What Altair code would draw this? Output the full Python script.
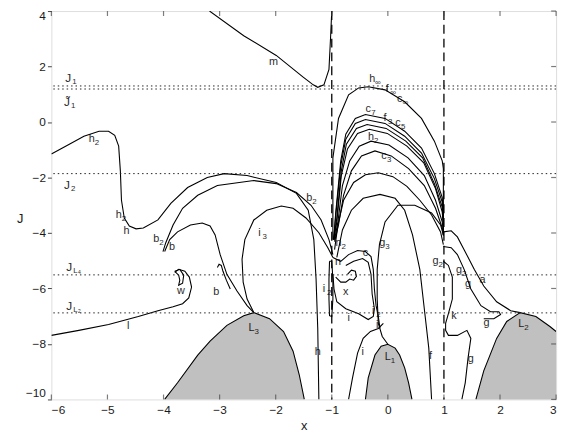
import altair as alt
import pandas as pd

# ---------------- curves (x, J) ----------------
m_x = [-3.18, -2.57, -1.99, -1.51, -1.33, -1.25, -1.14, -1.05, -1.02, -1.0]
m_y = [4.0, 3.11, 2.40, 1.62, 1.34, 1.25, 1.34, 1.90, 3.11, 4.0]

h_x = [-6, -5.68, -5.42, -5.15, -4.98, -4.87, -4.80, -4.77, -4.75, -4.70, -4.61, -4.49, -4.36, -4.10,
       -3.87, -3.57, -3.22, -2.92, -2.51, -1.99, -1.63, -1.42, -1.32, -1.28, -1.25, -1.23]
h_y = [-1.15, -0.80, -0.51, -0.33, -0.33, -0.48, -0.87, -1.76, -2.82, -3.46, -3.75, -3.85, -3.82, -3.53,
       -2.93, -2.36, -2.0, -1.86, -1.93, -2.18, -2.57, -3.18, -4.24, -5.66, -7.44, -10.0]

b2_x = [-4.01, -3.96, -3.83, -3.66, -3.39, -3.04, -2.39, -1.99, -1.63, -1.37, -1.19, -1.05, -0.98]
b2_y = [-4.67, -4.35, -3.71, -3.11, -2.64, -2.29, -2.11, -2.22, -2.54, -3.0, -3.53, -4.24, -4.78]

b_x = [-3.98, -3.89, -3.75, -3.52, -3.31, -3.17, -3.08, -2.99, -2.87, -2.69, -2.51, -2.39]
b_y = [-4.67, -4.24, -3.96, -3.71, -3.64, -3.75, -4.07, -4.78, -5.49, -6.09, -6.62, -6.87]

bh_x = [-3.04, -3.01, -2.97, -2.94, -2.88, -2.81]
bh_y = [-5.24, -5.13, -5.17, -5.38, -5.70, -6.02]

i3_x = [-2.39, -2.51, -2.58, -2.60, -2.55, -2.39, -2.16, -1.90, -1.69, -1.46, -1.23, -1.07, -0.98]
i3_y = [-6.87, -6.38, -5.77, -4.95, -4.24, -3.53, -3.18, -3.03, -3.11, -3.46, -3.99, -4.53, -4.88]

l_x = [-6.0, -5.51, -4.98, -4.45, -4.10, -3.83, -3.66, -3.55, -3.50, -3.54, -3.62, -3.73, -3.80]
l_y = [-7.69, -7.51, -7.30, -7.01, -6.80, -6.66, -6.55, -6.34, -5.95, -5.59, -5.38, -5.31, -5.42]

w_x = [-3.80, -3.71, -3.64, -3.66, -3.73, -3.71, -3.73, -3.80]
w_y = [-5.38, -5.31, -5.52, -5.81, -5.88, -5.70, -5.52, -5.38]

hinf_x = [-0.98, -0.98, -0.88, -0.70, -0.52, -0.35, -0.05, 0.30, 0.60, 0.83, 0.97, 0.99, 0.99]
hinf_y = [-4.24, -1.29, 0.13, 0.98, 1.23, 1.27, 1.16, 0.73, 0.13, -0.69, -1.40, -1.68, -3.89]

c7_x = [-0.965, -0.93, -0.84, -0.75, -0.58, -0.40, -0.05, 0.30, 0.60, 0.83, 0.97, 0.99, 0.99]
c7_y = [-4.24, -3.28, -1.40, -0.44, 0.13, 0.27, 0.13, -0.33, -0.94, -1.86, -2.72, -3.28, -4.07]

f3_x = [-0.965, -0.93, -0.84, -0.75, -0.58, -0.40, -0.05, 0.30, 0.60, 0.83, 0.97, 0.99]
f3_y = [-4.24, -3.39, -1.58, -0.62, -0.05, 0.09, -0.05, -0.51, -1.12, -2.04, -2.89, -3.46]

c5_x = [-0.965, -0.91, -0.83, -0.74, -0.56, -0.37, -0.03, 0.32, 0.62, 0.83, 0.97, 0.99]
c5_y = [-4.24, -3.46, -1.76, -0.80, -0.23, -0.09, -0.23, -0.69, -1.29, -2.22, -3.07, -3.60]

c6_x = [-0.965, -0.91, -0.83, -0.72, -0.54, -0.33, -0.01, 0.34, 0.64, 0.85, 0.97, 0.99]
c6_y = [-4.24, -3.60, -1.93, -0.97, -0.41, -0.26, -0.41, -0.87, -1.47, -2.40, -3.25, -3.75]

h2f_x = [-0.95, -0.89, -0.81, -0.68, -0.51, -0.30, 0.02, 0.36, 0.65, 0.85, 0.97, 0.99]
h2f_y = [-4.24, -3.60, -2.29, -1.40, -0.87, -0.69, -0.83, -1.29, -1.93, -2.82, -3.60, -3.96]

c3_x = [-0.95, -0.88, -0.79, -0.65, -0.47, -0.23, 0.06, 0.37, 0.65, 0.85, 0.97, 0.99]
c3_y = [-4.31, -3.71, -2.64, -1.76, -1.22, -1.04, -1.22, -1.68, -2.29, -3.11, -3.82, -4.10]

arc_x = [-0.95, -0.89, -0.79, -0.61, -0.40, -0.17, 0.09, 0.34, 0.57, 0.78, 0.94, 0.99]
arc_y = [-4.60, -3.71, -2.82, -2.18, -1.90, -1.83, -1.97, -2.32, -2.82, -3.35, -3.96, -4.42]

f_x = [-0.91, -0.81, -0.65, -0.44, -0.14, 0.13, 0.30, 0.44, 0.57, 0.65, 0.73, 0.78]
f_y = [-4.88, -3.89, -3.18, -2.75, -2.61, -2.75, -3.18, -4.07, -5.31, -6.73, -8.15, -10.0]

g3_x = [0.00, -0.10, -0.17, -0.19, -0.19, -0.15, -0.05, 0.18, 0.48, 0.78, 0.94, 0.99]
g3_y = [-8.01, -7.73, -7.26, -6.38, -5.31, -4.42, -3.60, -3.0, -3.0, -3.28, -3.71, -4.07]

ilow_x = [-0.70, -0.63, -0.54, -0.44, -0.31, -0.17, -0.08]
ilow_y = [-10.0, -9.22, -8.33, -7.80, -7.55, -7.44, -7.26]

c_x = [-0.98, -0.84, -0.70, -0.54, -0.40, -0.30, -0.26, -0.24, -0.21, -0.17, -0.14]
c_y = [-4.88, -5.02, -4.78, -4.63, -4.67, -4.85, -5.31, -6.02, -6.62, -7.01, -7.44]

cin_x = [-0.75, -0.61, -0.45, -0.35, -0.30, -0.28, -0.24, -0.26, -0.35, -0.52, -0.75, -0.91, -0.96, -0.98]
cin_y = [-5.17, -5.02, -4.92, -5.06, -5.49, -6.20, -6.73, -7.01, -7.12, -6.91, -6.73, -6.48, -6.02, -5.49]

xs_x = [-0.93, -0.84, -0.75, -0.68, -0.61, -0.56, -0.58, -0.65, -0.72]
xs_y = [-5.59, -5.77, -5.77, -5.66, -5.70, -5.56, -5.38, -5.34, -5.49]

i2_x = [-1.04, -1.05, -1.05, -1.04, -1.0, -0.98, -0.98, -1.0, -1.04]
i2_y = [-5.02, -5.66, -6.38, -6.98, -7.01, -6.38, -5.66, -5.02, -5.02]

k_x = [0.99, 1.08, 1.15, 1.15, 1.08, 1.03, 1.03, 1.08, 1.24, 1.41, 1.48, 1.43, 1.38, 1.32]
k_y = [-5.02, -5.17, -5.59, -6.38, -6.91, -7.26, -7.51, -7.69, -7.69, -7.51, -7.80, -8.51, -9.40, -10.0]

g2_x = [0.99, 1.13, 1.24, 1.36, 1.48, 1.66, 1.83, 1.98, 2.01, 1.89, 1.71]
g2_y = [-4.49, -4.53, -4.78, -5.31, -6.02, -6.62, -6.84, -6.84, -6.94, -7.09, -7.09]

a_x = [0.99, 1.13, 1.24, 1.36, 1.54, 1.71, 1.94, 2.19, 2.36]
a_y = [-3.96, -3.92, -4.14, -4.60, -5.31, -5.91, -6.48, -6.80, -6.87]

# forbidden regions (grey)
L3_x = [-3.98, -3.75, -3.39, -3.17, -2.87, -2.57, -2.39, -2.11, -1.86, -1.69, -1.58, -1.49]
L3_y = [-10.0, -9.40, -8.40, -7.90, -7.33, -6.98, -6.87, -7.09, -7.55, -8.26, -9.11, -10.0]
L1_x = [-0.40, -0.35, -0.23, -0.12, 0.00, 0.13, 0.21, 0.30, 0.37, 0.43]
L1_y = [-10.0, -9.22, -8.40, -8.08, -8.01, -8.15, -8.40, -8.86, -9.40, -10.0]
L2_x = [1.57, 1.71, 1.94, 2.12, 2.36, 2.64, 2.89, 3.0]
L2_y = [-10.0, -8.97, -7.80, -7.19, -6.87, -7.01, -7.37, -7.55]

# reference levels
level_y = [1.30, 1.19, -1.86, -5.51, -6.88]
sing_x = [-1.0, 1.0]

# labels: main letter, subscript, x, J
lab_main = ["m", "h", "h", "h", "b", "b", "w", "l", "b", "i", "L", "b", "i", "h", "n", "n", "c", "x",
            "i", "i", "i", "i", "g", "L", "f", "g", "g", "g", "a", "k", "g", "g", "L",
            "h", "f", "c", "c", "f", "c", "h", "c"]
lab_sub = ["", "2", "2", "", "2", "", "", "", "", "3", "3", "2", "2", "", "2", "", "", "",
           "", "2", "", "", "3", "1", "", "2", "2", "", "", "", "", "", "2",
           "∞", "∞", "∞", "7", "3", "5", "2", "3"]
lab_x = [-2.04, -5.28, -4.80, -4.66, -4.13, -3.85, -3.69, -4.63, -3.06, -2.29, -2.43, -1.40, -1.14, -1.25,
         -0.88, -0.89, -0.40, -0.75, -0.70, -0.26, -0.19, -0.45, -0.10, 0.00, 0.76, 0.85, 1.27, 1.43,
         1.69, 1.18, 1.76, 1.48, 2.38, -0.28, -0.01, 0.21, -0.35, -0.05, 0.18, -0.30, -0.07]
lab_y = [2.15, -0.62, -3.35, -3.92, -4.21, -4.49, -6.09, -7.37, -6.13, -3.99, -7.44, -2.75, -6.02, -8.29,
         -4.35, -5.06, -4.74, -6.13, -7.05, -6.80, -7.33, -8.29, -4.35, -8.47, -8.44, -5.02, -5.34, -5.84,
         -5.70, -6.98, -7.23, -8.54, -7.30, 1.55, 1.19, 0.84, 0.48, 0.13, -0.05, -0.55, -1.22]

jl_main = ["J", "J̃", "J", "J", "J"]
jl_sub = ["1", "1", "2", "L₄", "L₂"]
jl_x = [-5.70, -5.72, -5.72, -5.68, -5.68]
jl_y = [1.58, 0.73, -2.29, -5.24, -6.62]

x_ticks = [-6, -5, -4, -3, -2, -1, 0, 1, 2, 3]
y_ticks = [-10, -8, -6, -4, -2, 0, 2, 4]

# ---------------- tables ----------------
curves = {
    "m": (m_x, m_y), "h": (h_x, h_y), "b2": (b2_x, b2_y), "b": (b_x, b_y), "bh": (bh_x, bh_y),
    "i3": (i3_x, i3_y), "l": (l_x, l_y), "w": (w_x, w_y), "hinf": (hinf_x, hinf_y),
    "c7": (c7_x, c7_y), "f3": (f3_x, f3_y), "c5": (c5_x, c5_y), "c6": (c6_x, c6_y),
    "h2f": (h2f_x, h2f_y), "c3": (c3_x, c3_y), "arc": (arc_x, arc_y), "f": (f_x, f_y),
    "g3": (g3_x, g3_y), "ilow": (ilow_x, ilow_y), "c": (c_x, c_y), "cin": (cin_x, cin_y),
    "xs": (xs_x, xs_y), "i2": (i2_x, i2_y), "k": (k_x, k_y), "g2": (g2_x, g2_y), "a": (a_x, a_y),
    "L3": (L3_x, L3_y), "L1": (L1_x, L1_y), "L2": (L2_x, L2_y),
}
rows = []
for name, (xs, ys) in curves.items():
    for i, (xv, yv) in enumerate(zip(xs, ys)):
        rows.append({"curve": name, "i": i, "x": xv, "y": yv})
cdf = pd.DataFrame(rows)

blobs = {"L3": (L3_x, L3_y), "L1": (L1_x, L1_y), "L2": (L2_x, L2_y)}
brows = []
for name, (xs, ys) in blobs.items():
    for xv, yv in zip(xs, ys):
        brows.append({"blob": name, "x": xv, "y": yv, "y0": -10.0})
bdf = pd.DataFrame(brows)

ldf = pd.DataFrame({"main": lab_main, "sub": lab_sub, "x": lab_x, "y": lab_y})
jdf = pd.DataFrame({"main": jl_main, "sub": jl_sub, "x": jl_x, "y": jl_y})

xs_ = alt.Scale(domain=[-6, 3], nice=False, zero=False)
ys_ = alt.Scale(domain=[-10, 4], nice=False, zero=False)
FONT = "Liberation Sans"
INK = "#000000"

X = alt.X("x:Q", scale=xs_, axis=alt.Axis(values=x_ticks, format="d", title="x", labelFontSize=12,
                                          titleFontSize=13, titleFontWeight="normal", labelFont=FONT,
                                          titleFont=FONT, tickSize=0, domain=False, grid=False,
                                          labelPadding=5, titlePadding=4, labelColor="#1a1a1a",
                                          titleColor="#1a1a1a"))
Y = alt.Y("y:Q", scale=ys_, axis=alt.Axis(values=y_ticks, format="d", title="J", labelFontSize=12,
                                          titleFontSize=13, titleFontWeight="normal", labelFont=FONT,
                                          titleFont=FONT, tickSize=4, tickColor="#444", domain=False,
                                          grid=False, labelFlush=True, titleAngle=0, titleX=-32,
                                          titleY=210, titleAlign="center", titleBaseline="middle",
                                          labelColor="#1a1a1a", titleColor="#1a1a1a"))

area = alt.Chart(bdf).mark_area(opacity=1).encode(
    x=X, y=Y, y2="y0:Q", detail="blob:N", color=alt.value("#c0c0c0"))

lines = alt.Chart(cdf).mark_line(strokeWidth=1.1, clip=True).encode(
    x="x:Q", y="y:Q", detail="curve:N", order="i:Q", color=alt.value("black"))

hl = alt.Chart(pd.DataFrame({"y": level_y})).mark_rule(strokeWidth=1, strokeDash=[1.5, 3]).encode(
    y="y:Q", color=alt.value("#222"))
vl = alt.Chart(pd.DataFrame({"x": sing_x})).mark_rule(strokeWidth=1.3, strokeDash=[9, 5]).encode(
    x="x:Q", color=alt.value("black"))

tdf_x = pd.DataFrame({"x": x_ticks})
tdf_y = pd.DataFrame({"y": y_ticks})
tick_b = alt.Chart(tdf_x).mark_tick(orient="vertical", size=5, thickness=1.2, yOffset=-2.5).encode(
    x="x:Q", y=alt.datum(-10), color=alt.value("#444"))
tick_t = alt.Chart(tdf_x).mark_tick(orient="vertical", size=5, thickness=1.2, yOffset=2.5).encode(
    x="x:Q", y=alt.datum(4), color=alt.value("#444"))
tick_r = alt.Chart(tdf_y).mark_tick(orient="horizontal", size=5, thickness=1.2, xOffset=-2.5).encode(
    y="y:Q", x=alt.datum(3), color=alt.value("#444"))

TXT = dict(font=FONT, opacity=0.85, fill=INK)
txt = alt.Chart(ldf).mark_text(fontSize=11, align="center", baseline="middle", **TXT).encode(
    x="x:Q", y="y:Q", text="main:N")
sub = alt.Chart(ldf).mark_text(fontSize=8, align="left", baseline="middle", dx=3, dy=4, **TXT).encode(
    x="x:Q", y="y:Q", text="sub:N")
jtxt = alt.Chart(jdf).mark_text(fontSize=12, align="center", baseline="middle", **TXT).encode(
    x="x:Q", y="y:Q", text="main:N")
jsub = alt.Chart(jdf).mark_text(fontSize=8, align="left", baseline="middle", dx=4, dy=4, **TXT).encode(
    x="x:Q", y="y:Q", text="sub:N")

chart = alt.layer(area, lines, hl, vl, tick_b, tick_t, tick_r, txt, sub, jtxt, jsub).properties(
    width=512, height=394,
    autosize=alt.AutoSizeParams(type="none"),
    padding={"left": 44, "top": 0, "right": 6, "bottom": 35},
).configure_view(stroke="#444", strokeWidth=1.5).configure(background="white")

chart.save("out.html", embed_options={"renderer": "svg", "actions": False})
